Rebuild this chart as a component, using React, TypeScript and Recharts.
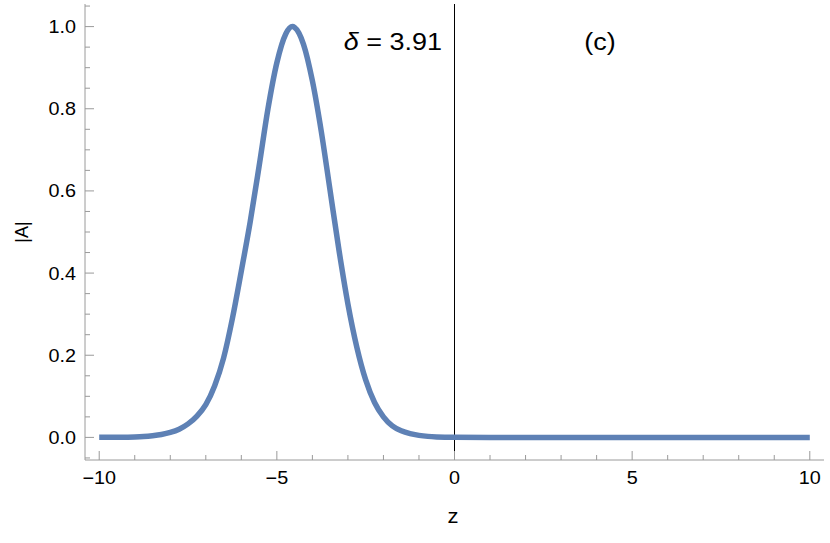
import { LineChart, Line, XAxis, YAxis, ReferenceLine } from "recharts";

const FRAME = "#9a9a9a";
const CURVE = "#5e81b5";
const FONT = "'Liberation Sans', Arial, sans-serif";

// z positions and |A| values
const zValues = [
  -10, -9.5, -9, -8.75, -8.5, -8.25, -8, -7.75, -7.5, -7.25, -7, -6.75, -6.5,
  -6.25, -6, -5.75, -5.5, -5.25, -5, -4.75, -4.56, -4.5, -4.25, -4, -3.75, -3.5,
  -3.25, -3, -2.75, -2.5, -2.25, -2, -1.75, -1.5, -1.25, -1, -0.75, -0.5, -0.25,
  0, 1, 2, 3, 4, 5, 6, 7, 8, 9, 10,
];
const ampValues = [
  0.0001, 0.0003, 0.001, 0.002, 0.004, 0.007, 0.012, 0.02, 0.033, 0.052,
  0.08, 0.126, 0.193, 0.29, 0.405, 0.525, 0.66, 0.8, 0.912, 0.982, 1.0, 0.998,
  0.957, 0.868, 0.745, 0.6, 0.455, 0.325, 0.22, 0.14, 0.085, 0.05, 0.028, 0.016,
  0.009, 0.005, 0.0025, 0.0012, 0.0006, 0.0003, 0, 0, 0, 0, 0, 0, 0, 0, 0, 0,
];

const xTicks = [-10, -9, -8, -7, -6, -5, -4, -3, -2, -1, 0, 1, 2, 3, 4, 5, 6, 7, 8, 9, 10];
const yTicks = [
  -0.05, 0, 0.05, 0.1, 0.15, 0.2, 0.25, 0.3, 0.35, 0.4, 0.45, 0.5, 0.55, 0.6,
  0.65, 0.7, 0.75, 0.8, 0.85, 0.9, 0.95, 1, 1.05,
];

const data = zValues.map((z, i) => ({ z, a: ampValues[i] }));

const isMajorX = (v: number) => v % 5 === 0;
const isMajorY = (v: number) => Math.abs(v * 5 - Math.round(v * 5)) < 1e-6;
const fmtX = (v: number) => (v < 0 ? `\u2212${Math.abs(v)}` : `${v}`);

// the reference text is a little wider than Arial, stretch it
function Label({ x, y, size, anchor, children }: any) {
  return (
    <text
      transform={`translate(${x} ${y}) scale(1.1 1)`}
      textAnchor={anchor}
      fontSize={size}
      fontFamily={FONT}
      fill="#000"
    >
      {children}
    </text>
  );
}

// ticks point into the frame, like Mathematica
function BottomTick({ x, y, payload }: any) {
  const major = isMajorX(payload.value);
  return (
    <g>
      <line x1={x} x2={x} y1={y} y2={y - (major ? 9 : 5)} stroke={FRAME} />
      {major && (
        <Label x={x} y={y + 24} size={18} anchor="middle">
          {fmtX(payload.value)}
        </Label>
      )}
    </g>
  );
}

function TopTick({ x, y, payload }: any) {
  const major = isMajorX(payload.value);
  return <line x1={x} x2={x} y1={y} y2={y + (major ? 9 : 5)} stroke={FRAME} />;
}

function LeftTick({ x, y, payload }: any) {
  const major = isMajorY(payload.value);
  return (
    <g>
      <line x1={x} x2={x + (major ? 9 : 5)} y1={y} y2={y} stroke={FRAME} />
      {major && (
        <Label x={x - 9} y={y + 6.5} size={18} anchor="end">
          {payload.value.toFixed(1)}
        </Label>
      )}
    </g>
  );
}

function RightTick({ x, y, payload }: any) {
  const major = isMajorY(payload.value);
  return <line x1={x} x2={x - (major ? 9 : 5)} y1={y} y2={y} stroke={FRAME} />;
}

export default function App() {
  return (
    <div style={{ position: "absolute", left: 0, top: 0, width: 830, height: 543, background: "#fff" }}>
      <LineChart width={830} height={543} data={data} margin={{ top: 4, right: 6, left: 0, bottom: 0 }}>
        <XAxis
          xAxisId="b"
          dataKey="z"
          type="number"
          domain={[-10.4, 10.4]}
          ticks={xTicks}
          interval={0}
          height={83}
          tickSize={0}
          tickMargin={0}
          tickLine={false}
          axisLine={{ stroke: FRAME }}
          tick={<BottomTick />}
          allowDataOverflow
        />
        <XAxis
          xAxisId="t"
          dataKey="z"
          type="number"
          orientation="top"
          domain={[-10.4, 10.4]}
          ticks={xTicks}
          interval={0}
          height={0}
          tickSize={0}
          tickMargin={0}
          tickLine={false}
          axisLine={{ stroke: FRAME }}
          tick={<TopTick />}
          allowDataOverflow
        />
        <YAxis
          yAxisId="l"
          type="number"
          domain={[-0.055, 1.055]}
          ticks={yTicks}
          interval={0}
          width={85}
          tickSize={0}
          tickMargin={0}
          tickLine={false}
          axisLine={{ stroke: FRAME }}
          tick={<LeftTick />}
          allowDataOverflow
        />
        <YAxis
          yAxisId="r"
          type="number"
          orientation="right"
          domain={[-0.055, 1.055]}
          ticks={yTicks}
          interval={0}
          width={0}
          tickSize={0}
          tickMargin={0}
          tickLine={false}
          axisLine={{ stroke: FRAME }}
          tick={<RightTick />}
          allowDataOverflow
        />
        <ReferenceLine xAxisId="b" yAxisId="l" x={0} stroke="#000" strokeWidth={1} />
        <Line
          xAxisId="b"
          yAxisId="l"
          type="monotone"
          dataKey="a"
          stroke={CURVE}
          strokeWidth={5.5}
          dot={false}
          activeDot={false}
          isAnimationActive={false}
        />
      </LineChart>
      <svg
        width={830}
        height={543}
        style={{ position: "absolute", left: 0, top: 0, pointerEvents: "none" }}
      >
        <Label x={442} y={50} size={24.5} anchor="end">
          <tspan fontStyle="italic">δ</tspan> = 3.91
        </Label>
        <Label x={600} y={50} size={24.5} anchor="middle">
          (c)
        </Label>
        <Label x={453} y={523} size={20} anchor="middle">
          z
        </Label>
        <text
          x={28}
          y={232}
          textAnchor="middle"
          fontSize={18}
          fontFamily={FONT}
          fill="#000"
          transform="rotate(-90 28 232)"
        >
          |A|
        </text>
      </svg>
    </div>
  );
}
